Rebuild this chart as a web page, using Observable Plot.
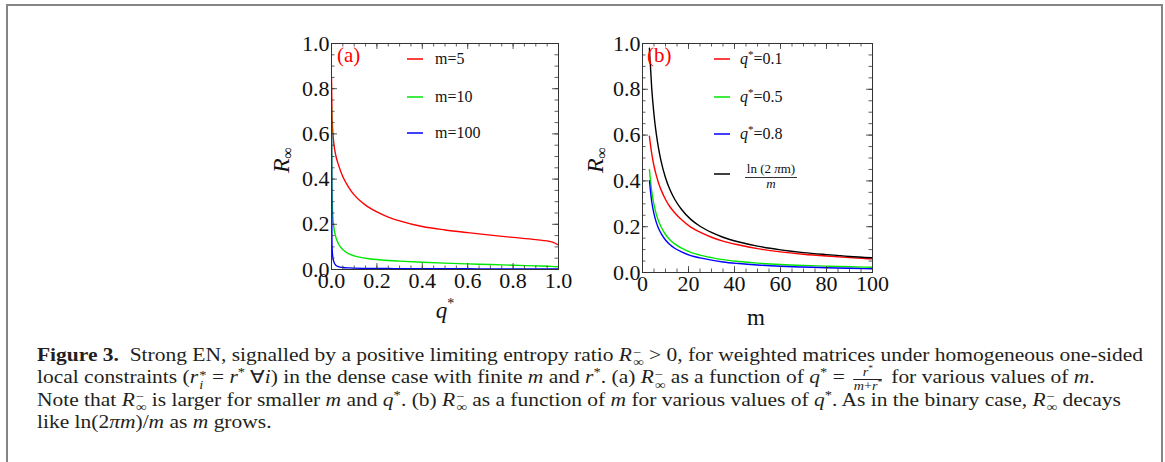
<!DOCTYPE html>
<html><head><meta charset="utf-8">
<script src="https://cdn.jsdelivr.net/npm/d3@7"></script>
<script src="https://cdn.jsdelivr.net/npm/@observablehq/plot@0.6"></script>
<style>
body{margin:0;background:#fff;width:1165px;height:462px;overflow:hidden;position:relative;font-family:"Liberation Serif",serif;}
#frame{position:absolute;left:6px;top:4px;width:1157px;height:480px;border:2.5px solid #858585;border-bottom:none;box-sizing:border-box;}
.panel{position:absolute;top:20px;}
#pa{left:240px}
#pb{left:575px}
#cap{position:absolute;left:37px;top:344px;font-size:18px;color:#231f20;white-space:nowrap;transform-origin:0 0;}
#cap > div{height:22.4px;line-height:22.4px;overflow:visible}
#cap sup,#cap sub{font-size:0.68em;line-height:0;}
.st{display:inline-block;vertical-align:-0.42em;line-height:0.78em;font-size:0.68em;text-align:left;margin-left:1px}
.st span{display:block}
.fr{display:inline-block;vertical-align:-0.55em;text-align:center;font-size:0.66em;line-height:1.05em;margin:0 3px}
.fr .n{display:block;border-bottom:1px solid #231f20;padding:0 1px}
.fr .d{display:block}
</style></head><body>
<div id="frame"></div>
<div id="pa" class="panel"></div>
<div id="pb" class="panel"></div>
<div id="cap">
<div id="cap1"><b>Figure 3.</b>&nbsp; Strong EN, signalled by a positive limiting entropy ratio <i>R</i><span class="st"><span>−</span><span>∞</span></span> &gt; 0, for weighted matrices under homogeneous one-sided</div>
<div>local constraints (<i>r</i><span class="st"><span>*</span><span><i>i</i></span></span> = <i>r</i><sup>*</sup> ∀<i>i</i>) in the dense case with finite <i>m</i> and <i>r</i><sup>*</sup>. (a) <i>R</i><span class="st"><span>−</span><span>∞</span></span> as a function of <i>q</i><sup>*</sup> = <span class="fr"><span class="n"><i>r</i><sup>*</sup></span><span class="d"><i>m</i>+<i>r</i><sup>*</sup></span></span> for various values of <i>m</i>.</div>
<div>Note that <i>R</i><span class="st"><span>−</span><span>∞</span></span> is larger for smaller <i>m</i> and <i>q</i><sup>*</sup>. (b) <i>R</i><span class="st"><span>−</span><span>∞</span></span> as a function of <i>m</i> for various values of <i>q</i><sup>*</sup>. As in the binary case, <i>R</i><span class="st"><span>−</span><span>∞</span></span> decays</div>
<div>like ln(2<i>πm</i>)/<i>m</i> as <i>m</i> grows.</div>
</div>
<script>
// ---------- Panel (a): R_inf vs q* ----------
const qA   = [0, 0.002, 0.005, 0.01, 0.02, 0.03, 0.05, 0.075, 0.1, 0.15, 0.2, 0.25, 0.3, 0.4, 0.5, 0.6, 0.7, 0.8, 0.9, 0.97, 1.0];
const rM5  = [0.85, 0.70, 0.62, 0.56, 0.50, 0.465, 0.41, 0.365, 0.33, 0.285, 0.255, 0.232, 0.215, 0.19, 0.175, 0.163, 0.152, 0.142, 0.132, 0.122, 0.108];
const rM10 = [0.72, 0.35, 0.25, 0.19, 0.14, 0.115, 0.088, 0.07, 0.06, 0.05, 0.044, 0.04, 0.037, 0.032, 0.028, 0.025, 0.022, 0.019, 0.016, 0.014, 0.012];
const rM100= [0.60, 0.12, 0.06, 0.035, 0.018, 0.013, 0.009, 0.007, 0.006, 0.005, 0.0045, 0.0042, 0.004, 0.0037, 0.0034, 0.0031, 0.0028, 0.0026, 0.0024, 0.0022, 0.002];
const seriesA = [
  {label:"m=5",   color:"#ff0000", values:rM5},
  {label:"m=10",  color:"#00e600", values:rM10},
  {label:"m=100", color:"#0000ff", values:rM100}
];
const ticksA = [0, 0.2, 0.4, 0.6, 0.8, 1.0];

// ---------- Panel (b): R_inf vs m ----------
const mB    = [3, 4, 5, 6, 7, 8, 10, 12, 14, 17, 21, 25, 30, 35, 42, 50, 60, 70, 80, 90, 100];
const rQ01  = [0.595, 0.52, 0.465, 0.424, 0.390, 0.363, 0.319, 0.286, 0.261, 0.230, 0.198, 0.176, 0.154, 0.137, 0.120, 0.104, 0.090, 0.080, 0.072, 0.065, 0.0595];
const rQ05  = [0.450, 0.355, 0.296, 0.254, 0.224, 0.201, 0.166, 0.142, 0.125, 0.106, 0.088, 0.076, 0.065, 0.056, 0.048, 0.041, 0.035, 0.031, 0.028, 0.025, 0.023];
const rQ08  = [0.401, 0.310, 0.256, 0.219, 0.192, 0.172, 0.142, 0.121, 0.106, 0.090, 0.074, 0.064, 0.054, 0.046, 0.039, 0.033, 0.0275, 0.0237, 0.0208, 0.0183, 0.0165];
const rLn   = [0.979, 0.806, 0.689, 0.605, 0.541, 0.490, 0.414, 0.360, 0.320, 0.275, 0.232, 0.202, 0.175, 0.154, 0.133, 0.115, 0.099, 0.087, 0.078, 0.070, 0.064];
const seriesB = [
  {label:"q*=0.1", color:"#ff0000", values:rQ01},
  {label:"q*=0.5", color:"#00e600", values:rQ05},
  {label:"q*=0.8", color:"#0000ff", values:rQ08},
  {label:"ln(2πm)/m", color:"#000000", values:rLn}
];
const ticksBx = [0, 20, 40, 60, 80, 100];
const ticksY  = [0, 0.2, 0.4, 0.6, 0.8, 1.0];

const FONT = "Liberation Serif";
const AX = "#333";

function makePanel({xs, series, xDomain, xTicks, xMinor, xFmt, yMinor, W, H, mL, mR, mT, mB: mb}) {
  const FW = W - mL - mR, FH = H - mT - mb;
  const rows = series.flatMap((s, k) => xs.map((x, i) => ({x, y: s.values[i], k})));
  const maj = 6, mnr = 3.5;
  const tickMarks = (vals, len) => [
    Plot.tickX(vals, {x: d => d, insetBottom: FH - len, stroke: AX, strokeWidth: 0.8}),
    Plot.tickX(vals, {x: d => d, insetTop: FH - len, stroke: AX, strokeWidth: 0.8})
  ];
  const tickMarksY = (vals, len) => [
    Plot.tickY(vals, {y: d => d, insetRight: FW - len, stroke: AX, strokeWidth: 0.8}),
    Plot.tickY(vals, {y: d => d, insetLeft: FW - len, stroke: AX, strokeWidth: 0.8})
  ];
  return Plot.plot({
    width: W, height: H, marginLeft: mL, marginRight: mR, marginTop: mT, marginBottom: mb,
    x: {domain: xDomain}, y: {domain: [0, 1]},
    style: {fontFamily: FONT, fontSize: "22px", background: "transparent", overflow: "visible", color: "#111"},
    marks: [
      ...series.map((s, k) => Plot.line(rows.filter(r => r.k === k), {x: "x", y: "y", stroke: s.color, strokeWidth: 1.4, curve: "monotone-x", clip: true})),
      ...tickMarks(xMinor, mnr), ...tickMarks(xTicks, maj),
      ...tickMarksY(yMinor, mnr), ...tickMarksY(ticksY, maj),
      Plot.frame({stroke: AX, strokeWidth: 1}),
      Plot.axisX({ticks: xTicks, tickSize: 0, tickPadding: 3, tickFormat: xFmt, fontSize: 22, label: null}),
      Plot.axisY({ticks: ticksY, tickSize: 0, tickPadding: 2, tickFormat: d3.format(".1f"), fontSize: 22, label: null})
    ]
  });
}

const minorA = d3.range(0, 1.0001, 0.05).map(v => +v.toFixed(2));
const minorBx = d3.range(0, 100.1, 5);
const minorY = d3.range(0, 1.0001, 0.05).map(v => +v.toFixed(2));

const pa = makePanel({xs: qA, series: seriesA, xDomain: [0, 1], xTicks: ticksA, xMinor: minorA, xFmt: d3.format(".1f"), yMinor: minorY,
  W: 335, H: 320, mL: 91, mR: 17, mT: 23, mB: 71});
const pb = makePanel({xs: mB, series: seriesB, xDomain: [0, 100], xTicks: ticksBx, xMinor: minorBx, xFmt: d3.format("d"), yMinor: minorY,
  W: 335, H: 320, mL: 67, mR: 38, mT: 23, mB: 68});
document.getElementById("pa").appendChild(pa);
document.getElementById("pb").appendChild(pb);

function addG(svg, html) {
  const g = document.createElementNS("http://www.w3.org/2000/svg", "g");
  g.setAttribute("font-family", FONT);
  g.setAttribute("text-anchor", "start");
  g.setAttribute("fill", "#111");
  g.innerHTML = html;
  svg.appendChild(g);
}
// Panel (a) decorations (coords relative to svg at left 240, top 20)
{
  const L = 91, T = 23;
  let h = `<text x="${L+6}" y="${T+19}" fill="#ff0000" font-size="21">(a)</text>`;
  const ys = [39, 77, 113];
  seriesA.forEach((s, i) => {
    h += `<line x1="${L+76}" x2="${L+92}" y1="${ys[i]}" y2="${ys[i]}" stroke="${s.color}" stroke-width="1.5"/>`;
    h += `<text x="${L+104}" y="${ys[i]+5}" font-size="16">${s.label}</text>`;
  });
  h += `<text transform="translate(49,140) rotate(-90)" text-anchor="middle" font-size="24"><tspan font-style="italic">R</tspan><tspan font-size="16" dy="4">∞</tspan></text>`;
  h += `<text x="205" y="298" text-anchor="middle" font-size="23"><tspan font-style="italic">q</tspan><tspan font-size="14" dy="-10">*</tspan></text>`;
  addG(pa, h);
}
// Panel (b) decorations (svg at left 575, top 20)
{
  const L = 67, T = 23;
  let h = `<text x="${L+5}" y="${T+19}" fill="#ff0000" font-size="21">(b)</text>`;
  const ys = [39, 77, 114, 154];
  seriesB.forEach((s, i) => {
    h += `<line x1="${L+72}" x2="${L+88}" y1="${ys[i]}" y2="${ys[i]}" stroke="${s.color}" stroke-width="1.5"/>`;
    if (i < 3) {
      const v = s.label.split("=")[1];
      h += `<text x="${L+98}" y="${ys[i]+5}" font-size="16"><tspan font-style="italic">q</tspan><tspan font-size="11" dy="-6">*</tspan><tspan dy="6">=${v}</tspan></text>`;
    } else {
      h += `<text x="${L+129}" y="${ys[i]-1}" text-anchor="middle" font-size="13">ln (2 <tspan font-style="italic">π</tspan>m)</text>`;
      h += `<line x1="${L+103}" x2="${L+155}" y1="${ys[i]+3.5}" y2="${ys[i]+3.5}" stroke="#000" stroke-width="0.8"/>`;
      h += `<text x="${L+129}" y="${ys[i]+14}" text-anchor="middle" font-size="13" font-style="italic">m</text>`;
    }
  });
  h += `<text transform="translate(28,140) rotate(-90)" text-anchor="middle" font-size="24"><tspan font-style="italic">R</tspan><tspan font-size="16" dy="4">∞</tspan></text>`;
  h += `<text x="181" y="305" text-anchor="middle" font-size="23">m</text>`;
  addG(pb, h);
}
// Caption: stretch horizontally to the reference line width
{
  const cap = document.getElementById("cap");
  const w = document.getElementById("cap1").scrollWidth;
  const range = document.createRange();
  range.selectNodeContents(document.getElementById("cap1"));
  const tw = range.getBoundingClientRect().width;
  cap.style.transform = `scaleX(${1106 / tw})`;
}
</script>
</body></html>
